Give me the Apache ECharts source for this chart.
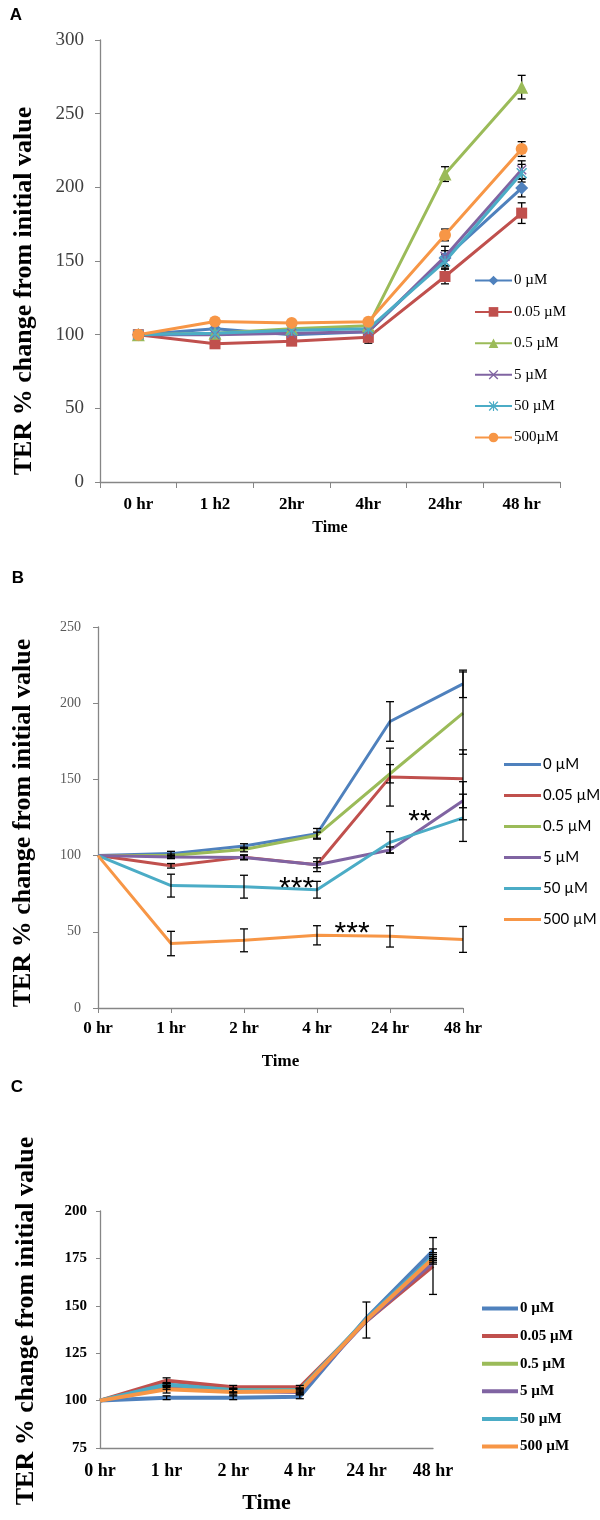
<!DOCTYPE html>
<html>
<head>
<meta charset="utf-8">
<script src="https://cdn.jsdelivr.net/npm/echarts@6/dist/echarts.min.js"></script>
<style>
  body { margin: 0; background: #fff; }
  .panel { position: absolute; left: 0; width: 600px; }
</style>
</head>
<body>
<div id="chartA" class="panel" style="top:0;height:545px"></div>
<div id="chartB" class="panel" style="top:545px;height:530px"></div>
<div id="chartC" class="panel" style="top:1075px;height:445px"></div>
<script>
// ---- data ----
var timesA = ['0 hr', '1 h2', '2hr', '4hr', '24hr', '48 hr'];
var timesBC = ['0 hr', '1 hr', '2 hr', '4 hr', '24 hr', '48 hr'];
var dosesA = ['0 µM', '0.05 µM', '0.5 µM', '5 µM', '50 µM', '500µM'];
var dosesBC = ['0 µM', '0.05 µM', '0.5 µM', '5 µM', '50 µM', '500 µM'];

// panel A
var a0 = [100, 104, 100, 102, 152, 199.5];
var a005 = [100, 93.8, 95.6, 98.2, 139.5, 182.5];
var a05 = [100, 101, 104, 106, 209, 268];
var a5 = [100, 100, 101, 102, 153, 212];
var a50 = [100, 101, 103, 104, 149.7, 209.6];
var a500 = [100, 109, 108, 108.8, 167.7, 226];
var aErr0 = [1, 3, 3, 3, 5, 6];
var aErr005 = [1, 2, 2, 4, 5, 7];
var aErr05 = [1, 2, 2, 3, 5, 8];
var aErr5 = [1, 2, 2, 3, 7, 6];
var aErr50 = [1, 2, 2, 3, 5, 6];
var aErr500 = [1, 2, 2, 2, 4, 5];

// panel B
var b0 = [100, 101.3, 106.3, 114.3, 188, 212.7];
var b005 = [100, 93.3, 99, 94, 151.5, 150.4];
var b05 = [100, 100, 104, 113.4, 153.7, 193.5];
var b5 = [100, 99, 98.7, 94, 103.7, 136];
var b50 = [100, 80.3, 79.6, 77.6, 108.7, 124.8];
var b500 = [100, 42.3, 44.4, 47.7, 47, 45];
var bErr0 = [0, 1.5, 1.5, 3.5, 13, 9];
var bErr005 = [0, 1.5, 1.5, 2, 19, 19];
var bErr05 = [0, 1, 1.5, 2, 6, 27];
var bErr5 = [0, 1, 1.5, 4.5, 2, 12.5];
var bErr50 = [0, 7.5, 7.5, 5.5, 7, 15.5];
var bErr500 = [0, 8, 7.5, 6.3, 7, 8.5];
// significance marks, position in (time index, TER value)
var starX = [2.72, 3.48, 4.41];
var starY = [82.4, 52.5, 126];
var starText = ['***', '***', '**'];

// panel C
var c0 = [100, 101.5, 101.5, 102, 143.5, 179];
var c005 = [100, 110.5, 107, 107, 142, 171];
var c05 = [100, 108, 105.5, 105.5, 142.5, 174];
var c5 = [100, 107, 105, 104.5, 142, 173];
var c50 = [100, 108.5, 105.5, 105.5, 143, 176];
var c500 = [100, 106, 104.5, 105, 142.5, 175];
var cErr0 = [0, 1, 1, 1, 0, 1];
var cErr005 = [0, 1.5, 1, 1, 0, 15];
var cErr05 = [0, 1, 1, 1, 0, 1];
var cErr5 = [0, 1, 1, 1, 0, 1];
var cErr50 = [0, 1, 1, 1, 0, 1];
var cErr500 = [0, 2, 1.5, 1.5, 9.5, 1];

var colors = ['#4F81BD', '#C0504D', '#9BBB59', '#8064A2', '#4BACC6', '#F79646'];
var SERIF = '"Liberation Serif", "Times New Roman", serif';
var SANS = '"Liberation Sans", Arial, sans-serif';
var AXIS_GREY = '#868686';

var xMark = 'path://M1,0 L5,4 L9,0 L10,1 L6,5 L10,9 L9,10 L5,6 L1,10 L0,9 L4,5 L0,1 Z';
var starMark = 'path://M1,0 L5,4 L9,0 L10,1 L6,5 L10,9 L9,10 L5,6 L1,10 L0,9 L4,5 L0,1 Z M4.4,0 L5.6,0 L5.6,10 L4.4,10 Z';

function errorBars(values, errs, z) {
    return {
        type: 'custom',
        silent: true,
        z: z,
        encode: { x: 0, y: [1, 2] },
        data: values.map(function (v, i) { return [i, v - errs[i], v + errs[i]]; }),
        renderItem: function (params, api) {
            var lo = api.coord([api.value(0), api.value(1)]);
            var hi = api.coord([api.value(0), api.value(2)]);
            if (Math.abs(hi[1] - lo[1]) < 0.5) return null;
            var w = 4;
            var st = { stroke: '#000', lineWidth: 1.3 };
            return {
                type: 'group',
                children: [
                    { type: 'line', shape: { x1: lo[0], y1: lo[1], x2: hi[0], y2: hi[1] }, style: st },
                    { type: 'line', shape: { x1: lo[0] - w, y1: lo[1], x2: lo[0] + w, y2: lo[1] }, style: st },
                    { type: 'line', shape: { x1: hi[0] - w, y1: hi[1], x2: hi[0] + w, y2: hi[1] }, style: st }
                ]
            };
        }
    };
}

function yTitle(x, y) {
    return {
        type: 'text', x: x, y: y, rotation: Math.PI / 2,
        style: { text: 'TER % change from initial value', font: 'bold 26px ' + SERIF, fill: '#000', align: 'center', verticalAlign: 'middle' }
    };
}

function panelLetter(t, x, y) {
    return {
        type: 'text', x: x, y: y,
        style: { text: t, font: 'bold 17px ' + SANS, fill: '#000', align: 'center', verticalAlign: 'middle' }
    };
}

// ---------- A ----------
function drawA() {
    var chart = echarts.init(document.getElementById('chartA'));
    var vals = [a0, a005, a05, a5, a50, a500];
    var errs = [aErr0, aErr005, aErr05, aErr5, aErr50, aErr500];
    var symbols = ['diamond', 'rect', 'triangle', xMark, starMark, 'circle'];
    var sizes = [13, 11, 13, 10, 11, 12];
    var series = [];
    for (var i = 0; i < vals.length; i++) {
        series.push({
            name: dosesA[i], type: 'line', data: vals[i],
            symbol: symbols[i], symbolSize: sizes[i], showSymbol: true,
            lineStyle: { width: 3, color: colors[i] },
            itemStyle: { color: colors[i] },
            z: 3
        });
    }
    for (var j = 0; j < vals.length; j++) series.push(errorBars(vals[j], errs[j], 2));

    chart.setOption({
        animation: false,
        color: colors,
        grid: { left: 100, right: 40, top: 40, bottom: 63 },
        legend: {
            data: dosesA, orient: 'vertical', left: 469, top: 268,
            itemWidth: 37, itemHeight: 12, itemGap: 16.4,
            textStyle: { fontFamily: SERIF, fontSize: 15, color: '#000', padding: [0, 0, 0, -3] }
        },
        xAxis: {
            type: 'category', data: timesA, boundaryGap: true,
            name: 'Time', nameLocation: 'middle', nameGap: 38,
            nameTextStyle: { fontFamily: SERIF, fontWeight: 'bold', fontSize: 16, color: '#000' },
            axisLine: { lineStyle: { color: AXIS_GREY, width: 1.3 } },
            axisTick: { show: true, length: 6, lineStyle: { color: AXIS_GREY } },
            axisLabel: { fontFamily: SERIF, fontWeight: 'bold', fontSize: 17, color: '#000', margin: 14 }
        },
        yAxis: {
            type: 'value', min: 0, max: 300, interval: 50,
            axisLine: { show: true, lineStyle: { color: AXIS_GREY, width: 1.3 } },
            axisTick: { show: true, length: 5, lineStyle: { color: AXIS_GREY } },
            axisLabel: { fontFamily: SERIF, fontSize: 19, color: '#404040', margin: 16 },
            splitLine: { show: false }
        },
        graphic: [panelLetter('A', 16, 15), yTitle(24, 291)],
        series: series
    });
}

// ---------- B ----------
function drawB() {
    var chart = echarts.init(document.getElementById('chartB'));
    var vals = [b0, b005, b05, b5, b50, b500];
    var errs = [bErr0, bErr005, bErr05, bErr5, bErr50, bErr500];
    var series = [];
    for (var i = 0; i < vals.length; i++) {
        series.push({
            name: dosesBC[i], type: 'line', data: vals[i],
            symbol: 'none', lineStyle: { width: 3, color: colors[i] },
            itemStyle: { color: colors[i] }, z: 2
        });
    }
    for (var j = 0; j < vals.length; j++) series.push(errorBars(vals[j], errs[j], 3));
    // significance stars, placed on a hidden value x axis so fractional positions work
    var starSize = 30;
    series.push({
        type: 'custom', silent: true, z: 4,
        xAxisIndex: 1,
        encode: { x: 0, y: 1 },
        data: starX.map(function (x, k) { return [x, starY[k]]; }),
        renderItem: function (params, api) {
            var p = api.coord([api.value(0), api.value(1)]);
            return {
                type: 'text', x: p[0], y: p[1] + starSize * 0.2,
                style: { text: starText[params.dataIndex], font: starSize + 'px ' + SANS, fill: '#000', align: 'center', verticalAlign: 'middle' }
            };
        }
    });

    chart.setOption({
        animation: false,
        color: colors,
        grid: { left: 98, right: 137, top: 82, bottom: 67 },
        legend: {
            data: dosesBC, orient: 'vertical', left: 499, top: 207,
            itemWidth: 37, itemHeight: 14, itemGap: 16,
            icon: 'path://M0,6 L37,6 L37,9 L0,9 Z',
            textStyle: { fontFamily: 'Lato, ' + SANS, fontSize: 15, color: '#000', padding: [0, 0, 0, -3] }
        },
        xAxis: [{
            type: 'category', data: timesBC, boundaryGap: false,
            name: 'Time', nameLocation: 'middle', nameGap: 45,
            nameTextStyle: { fontFamily: SERIF, fontWeight: 'bold', fontSize: 17, color: '#000' },
            axisLine: { lineStyle: { color: AXIS_GREY, width: 1.3 } },
            axisTick: { show: true, length: 5, lineStyle: { color: AXIS_GREY } },
            axisLabel: { fontFamily: SERIF, fontWeight: 'bold', fontSize: 17, color: '#000', margin: 12 }
        }, {
            type: 'value', min: 0, max: timesBC.length - 1, show: false
        }],
        yAxis: {
            type: 'value', min: 0, max: 250, interval: 50,
            axisLine: { show: true, lineStyle: { color: AXIS_GREY, width: 1.3 } },
            axisTick: { show: true, length: 5, lineStyle: { color: AXIS_GREY } },
            axisLabel: { fontFamily: SERIF, fontSize: 14, color: '#595959', margin: 17 },
            splitLine: { show: false }
        },
        graphic: [panelLetter('B', 18, 33), yTitle(23, 278)],
        series: series
    });
}

// ---------- C ----------
function drawC() {
    var chart = echarts.init(document.getElementById('chartC'));
    var vals = [c0, c005, c05, c5, c50, c500];
    var errs = [cErr0, cErr005, cErr05, cErr5, cErr50, cErr500];
    var series = [];
    for (var i = 0; i < vals.length; i++) {
        series.push({
            name: dosesBC[i], type: 'line', data: vals[i],
            symbol: 'none', lineStyle: { width: 4, color: colors[i] },
            itemStyle: { color: colors[i] }, z: 2
        });
    }
    for (var j = 0; j < vals.length; j++) series.push(errorBars(vals[j], errs[j], 3));

    chart.setOption({
        animation: false,
        color: colors,
        grid: { left: 100, right: 167, top: 136, bottom: 72 },
        legend: {
            data: dosesBC, orient: 'vertical', left: 477, top: 221,
            itemWidth: 36, itemHeight: 14, itemGap: 12.6,
            icon: 'path://M0,5 L36,5 L36,9 L0,9 Z',
            textStyle: { fontFamily: SERIF, fontWeight: 'bold', fontSize: 15, color: '#000', padding: [0, 0, 0, -3] }
        },
        xAxis: {
            type: 'category', data: timesBC, boundaryGap: false,
            name: 'Time', nameLocation: 'middle', nameGap: 44,
            nameTextStyle: { fontFamily: SERIF, fontWeight: 'bold', fontSize: 22, color: '#000' },
            axisLine: { lineStyle: { color: AXIS_GREY, width: 1.3 } },
            axisTick: { show: false },
            axisLabel: { fontFamily: SERIF, fontWeight: 'bold', fontSize: 18, color: '#000', margin: 14 }
        },
        yAxis: {
            type: 'value', min: 75, max: 200, interval: 25,
            axisLine: { show: true, lineStyle: { color: AXIS_GREY, width: 1.3 } },
            axisTick: { show: true, length: 4, lineStyle: { color: AXIS_GREY } },
            axisLabel: { fontFamily: SERIF, fontWeight: 'bold', fontSize: 15, color: '#000', margin: 13 },
            splitLine: { show: false }
        },
        graphic: [panelLetter('C', 17, 12), yTitle(26, 246)],
        series: series
    });
}

drawA();
drawB();
drawC();
</script>
</body>
</html>
